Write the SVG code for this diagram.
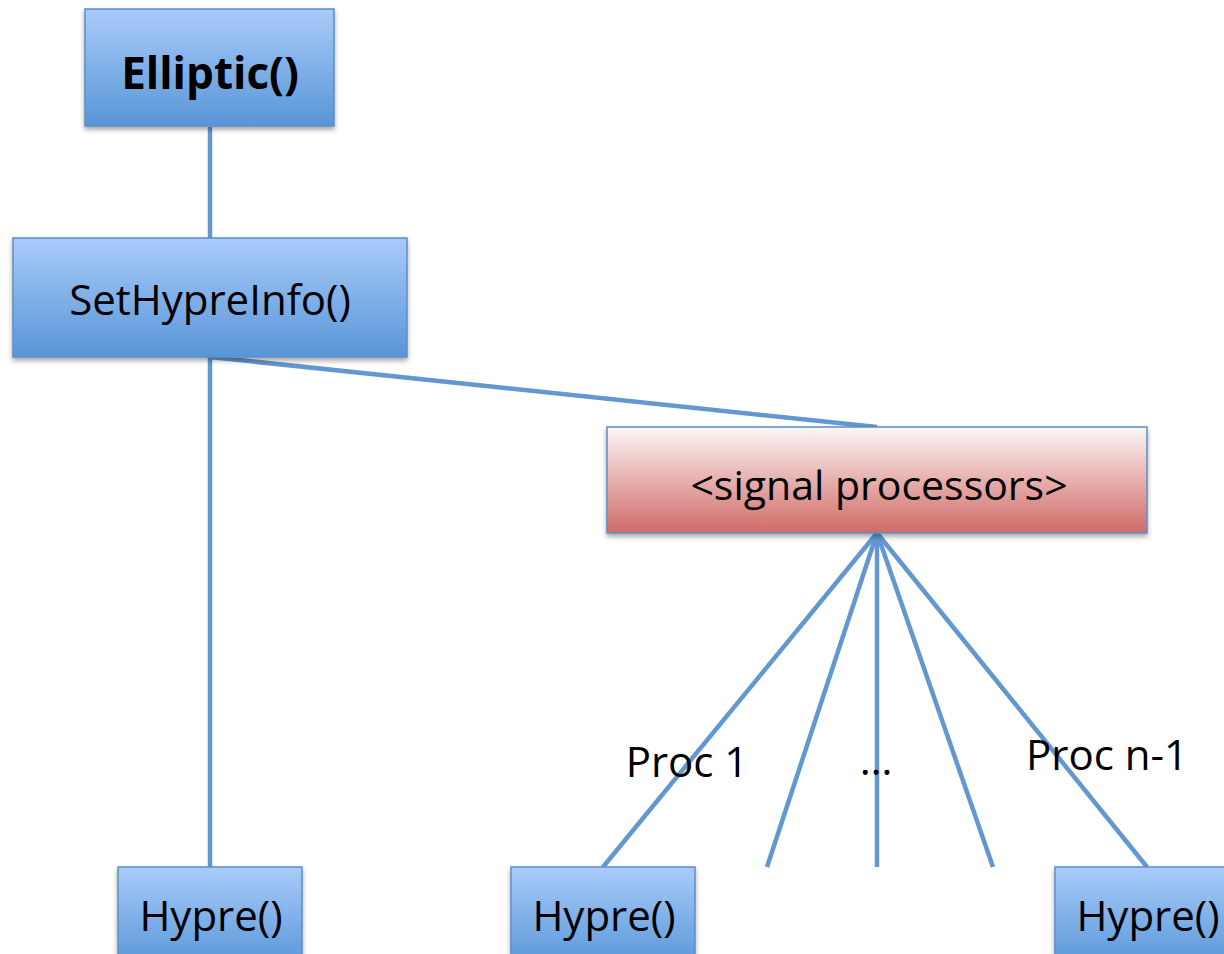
<svg xmlns="http://www.w3.org/2000/svg" width="1224" height="954" viewBox="0 0 1224 954">
<defs>
<linearGradient id="blue" x1="0" y1="0" x2="0" y2="1">
<stop offset="0" stop-color="#a9cbf9"/>
<stop offset="1" stop-color="#5896d8"/>
</linearGradient>
<linearGradient id="red" x1="0" y1="0" x2="0" y2="1">
<stop offset="0" stop-color="#fdf6f6"/>
<stop offset="1" stop-color="#d06b67"/>
</linearGradient>
<filter id="sh" x="-10%" y="-10%" width="120%" height="130%">
<feDropShadow dx="0" dy="3" stdDeviation="2.5" flood-color="#000" flood-opacity="0.35"/>
</filter>
</defs>
<style>
.bn{fill:url(#blue);stroke:#5b8ec9;stroke-width:1.5;filter:url(#sh)}
.rn{fill:url(#red);stroke:#5b8ec9;stroke-width:1.5;filter:url(#sh)}
text{font-family:"Open Sans","Liberation Sans",sans-serif;fill:#000;text-anchor:middle;dominant-baseline:central}
.t{font-size:42px}
.s{font-size:41px}
.b{font-size:44px;font-weight:bold}
.c line{stroke:#6397cf;stroke-width:4.5;stroke-linecap:butt}
</style>
<rect width="1224" height="954" fill="#fff"/>
<g class="c" id="connectors">
<line x1="210" y1="127" x2="210" y2="238"/>
<line x1="210" y1="357" x2="210" y2="867"/>
<line x1="210" y1="357" x2="877" y2="427"/>
<line x1="877" y1="533" x2="603" y2="867"/>
<line x1="877" y1="533" x2="767" y2="867"/>
<line x1="877" y1="533" x2="877" y2="867"/>
<line x1="877" y1="533" x2="993" y2="867"/>
<line x1="877" y1="533" x2="1147" y2="867"/>
</g>
<g id="elliptic"><rect class="bn" x="85" y="9" width="249" height="117"/><text class="b" x="210" y="72">Elliptic()</text></g>
<g id="sethypreinfo"><rect class="bn" x="13" y="238" width="394" height="119"/><text class="t" x="210" y="298">SetHypreInfo()</text></g>
<g id="signal"><rect class="rn" x="607" y="427" width="540" height="106"/><text class="s" x="879" y="484">&lt;signal processors&gt;</text></g>
<g id="hypre1"><rect class="bn" x="118" y="867" width="184" height="100"/><text class="t" x="211" y="914">Hypre()</text></g>
<g id="hypre2"><rect class="bn" x="511" y="867" width="184" height="100"/><text class="t" x="604" y="914">Hypre()</text></g>
<g id="hypre3"><rect class="bn" x="1055" y="867" width="184" height="100"/><text class="t" x="1148" y="914">Hypre()</text></g>
<g id="labels">
<text class="t" x="687" y="760">Proc 1</text>
<text class="t" x="876" y="758">…</text>
<text class="t" x="1107" y="753">Proc n-1</text>
</g>
</svg>
